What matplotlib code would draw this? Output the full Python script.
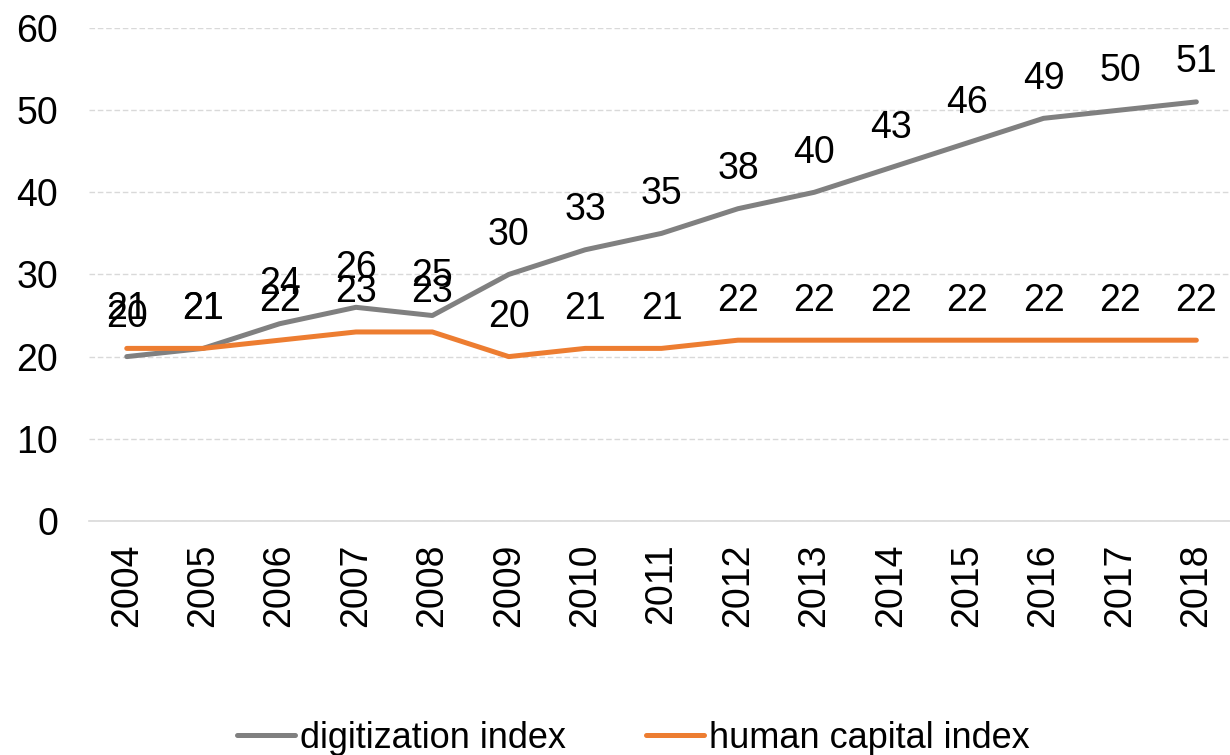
import matplotlib
matplotlib.use('Agg')
import matplotlib.pyplot as plt

years = ['2004', '2005', '2006', '2007', '2008', '2009', '2010', '2011',
         '2012', '2013', '2014', '2015', '2016', '2017', '2018']
digitization = [20, 21, 24, 26, 25, 30, 33, 35, 38, 40, 43, 46, 49, 50, 51]
human_capital = [21, 21, 22, 23, 23, 20, 21, 21, 22, 22, 22, 22, 22, 22, 22]

plt.rcParams['font.family'] = ['Liberation Sans', 'DejaVu Sans']

fig = plt.figure(figsize=(12.3, 7.55), dpi=100)
ax = fig.add_axes([0.0720, 0.310, 0.9317, 0.653])

x = list(range(len(years)))
ax.plot(x, digitization, color='#808080', lw=3.6, label='digitization index',
        solid_capstyle='round', zorder=3)
ax.plot(x, human_capital, color='#ED7D31', lw=3.6, label='human capital index',
        solid_capstyle='round', zorder=3)

# data labels above each point
for xi, v in zip(x, digitization):
    ax.annotate(str(v), (xi, v), xytext=(0, 28.5), textcoords='offset points',
                ha='center', va='center', fontsize=27)
for xi, v in zip(x, human_capital):
    ax.annotate(str(v), (xi, v), xytext=(0, 28.5), textcoords='offset points',
                ha='center', va='center', fontsize=27)

ax.set_xlim(-0.5, 14.5)
ax.set_ylim(0, 60)
ax.set_yticks(range(0, 61, 10))
ax.set_xticks(x)
ax.set_xticklabels(years, rotation=90)
ax.tick_params(axis='y', length=0, pad=22, labelsize=27)
ax.tick_params(axis='x', length=0, pad=16, labelsize=27)

ax.grid(axis='y', color='#D9D9D9', linestyle=(0, (4, 2)), lw=1)
ax.set_axisbelow(True)
for s in ['top', 'right', 'left']:
    ax.spines[s].set_visible(False)
ax.spines['bottom'].set_color('#D9D9D9')
ax.spines['bottom'].set_linewidth(1.2)

leg = fig.legend(loc='center', bbox_to_anchor=(0.515, 0.022), ncol=2,
                 frameon=False, handlelength=1.6, handletextpad=0.15,
                 columnspacing=2.2, prop={'size': 26})

plt.savefig('out.png', dpi=100)
